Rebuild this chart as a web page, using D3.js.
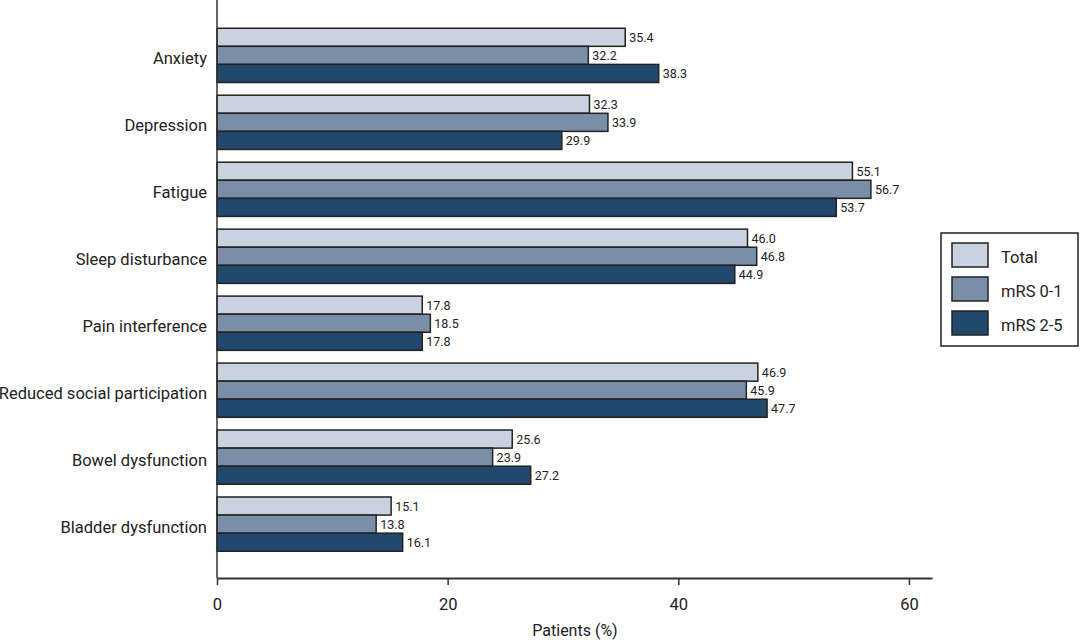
<!DOCTYPE html>
<html>
<head>
<meta charset="utf-8">
<script src="https://cdn.jsdelivr.net/npm/d3@7"></script>
<style>
  body { margin: 0; background: #fff; }
  text { font-family: Roboto, "Noto Sans", sans-serif; fill: #222; }
</style>
</head>
<body>
<div id="chart"></div>
<script>
// data
var categories = ["Anxiety", "Depression", "Fatigue", "Sleep disturbance", "Pain interference",
                  "Reduced social participation", "Bowel dysfunction", "Bladder dysfunction"];
var seriesNames = ["Total", "mRS 0-1", "mRS 2-5"];
var total   = [35.4, 32.3, 55.1, 46.0, 17.8, 46.9, 25.6, 15.1];
var mrs01   = [32.2, 33.9, 56.7, 46.8, 18.5, 45.9, 23.9, 13.8];
var mrs25   = [38.3, 29.9, 53.7, 44.9, 17.8, 47.7, 27.2, 16.1];
var xTicks  = [0, 20, 40, 60];

var colors = ["#c8d3df", "#7a8fa7", "#23486d"];

var width = 1080, height = 640;
var axisY = 578, axisX = 217;

var svg = d3.select("#chart")
  .append("svg")
  .attr("width", width)
  .attr("height", height);

var x = d3.scaleLinear().domain([0, 62]).range([axisX, 932]);

var y0 = d3.scaleBand()
  .domain(categories)
  .range([21.9, 557.6])
  .paddingInner(0.19)
  .paddingOuter(0.095);

var y1 = d3.scaleBand()
  .domain(seriesNames)
  .range([0, y0.bandwidth()]);

var series = [total, mrs01, mrs25];
var rows = [];
categories.forEach(function(c, i) {
  seriesNames.forEach(function(s, j) {
    rows.push({cat: c, ser: s, idx: j, value: series[j][i]});
  });
});

// bars
svg.selectAll("rect.bar")
  .data(rows)
  .enter()
  .append("rect")
    .attr("class", "bar")
    .attr("x", x(0))
    .attr("y", function(d) { return y0(d.cat) + y1(d.ser); })
    .attr("width", function(d) { return x(d.value) - x(0); })
    .attr("height", y1.bandwidth())
    .style("fill", function(d) { return colors[d.idx]; })
    .style("stroke", "#222")
    .style("stroke-width", 1.5);

// value labels
svg.selectAll("text.val")
  .data(rows)
  .enter()
  .append("text")
    .attr("class", "val")
    .attr("x", function(d) { return x(d.value) + 4; })
    .attr("y", function(d) { return y0(d.cat) + y1(d.ser) + y1.bandwidth() / 2; })
    .attr("dy", "0.36em")
    .attr("font-size", "12.5px")
    .text(function(d) { return d.value.toFixed(1); });

// category labels
svg.selectAll("text.cat")
  .data(categories)
  .enter()
  .append("text")
    .attr("class", "cat")
    .attr("x", axisX - 10)
    .attr("y", function(d) { return y0(d) + y0.bandwidth() / 2 + 3; })
    .attr("dy", "0.36em")
    .attr("text-anchor", "end")
    .attr("font-size", "16.5px")
    .text(function(d) { return d; });

// y axis line
svg.append("line")
  .attr("x1", axisX).attr("x2", axisX)
  .attr("y1", 0).attr("y2", axisY)
  .style("stroke", "#333").style("stroke-width", 1.5);

// x axis
var xAxis = svg.append("g")
  .attr("transform", "translate(0," + axisY + ")")
  .call(d3.axisBottom(x).tickValues(xTicks).tickSize(7).tickSizeOuter(0).tickPadding(13));
xAxis.select(".domain").style("stroke", "#333").style("stroke-width", 2);
xAxis.selectAll(".tick line").style("stroke", "#333").style("stroke-width", 1.5);
xAxis.selectAll(".tick text")
  .style("font-family", "Roboto, sans-serif")
  .style("font-size", "16.5px")
  .style("fill", "#222");

svg.append("text")
  .attr("x", 575)
  .attr("y", 636)
  .attr("text-anchor", "middle")
  .attr("font-size", "16px")
  .text("Patients (%)");

// legend
var legend = svg.append("g");
legend.append("rect")
  .attr("x", 941).attr("y", 233)
  .attr("width", 137).attr("height", 113)
  .style("fill", "#fff").style("stroke", "#222").style("stroke-width", 1.5);

var item = legend.selectAll("g.item")
  .data(seriesNames)
  .enter()
  .append("g")
    .attr("class", "item")
    .attr("transform", function(d, i) { return "translate(952," + (243 + i * 34) + ")"; });

item.append("rect")
  .attr("width", 36).attr("height", 24)
  .style("fill", function(d, i) { return colors[i]; })
  .style("stroke", "#222").style("stroke-width", 1.5);

item.append("text")
  .attr("x", 49)
  .attr("y", 14)
  .attr("dy", "0.36em")
  .attr("font-size", "16.5px")
  .text(function(d) { return d; });
</script>
</body>
</html>
